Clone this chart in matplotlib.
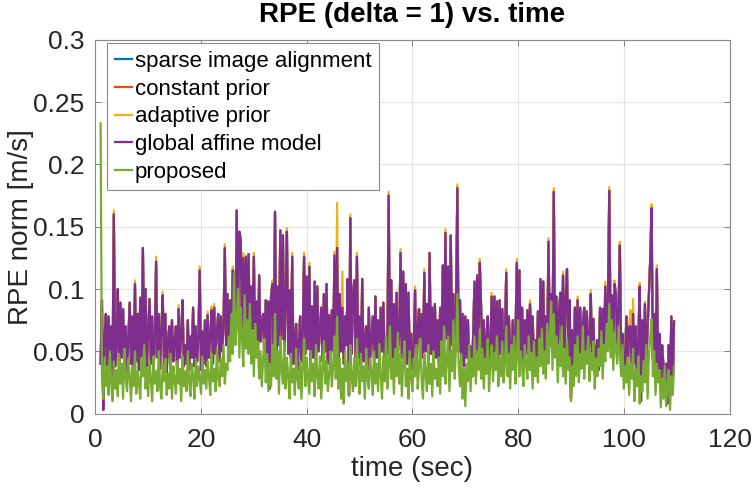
import numpy as np
import matplotlib
matplotlib.use("Agg")
import matplotlib.pyplot as plt

# ---------------- data (values in 1/1000 m/s) ----------------
time_start = 1.0      # s
time_step = 0.25      # s

global_affine_model = [
    40, 91, 3, 62, 80, 35, 78, 42, 70, 30, 160, 38, 55, 100, 33, 89,
    45, 84, 38, 70, 32, 60, 89, 40, 78, 36, 104, 42, 80, 35, 93, 45,
    133, 48, 100, 38, 65, 92, 40, 78, 33, 58, 122, 45, 80, 36, 68, 95,
    40, 80, 32, 60, 70, 35, 75, 42, 58, 70, 30, 84, 45, 62, 91, 38,
    55, 40, 75, 35, 62, 45, 85, 38, 70, 42, 60, 115, 35, 66, 40, 75,
    38, 79, 45, 62, 83, 40, 85, 48, 66, 80, 42, 78, 50, 70, 133, 55,
    96, 48, 91, 60, 115, 111, 58, 163, 70, 146, 139, 65, 125, 60, 126, 72,
    128, 55, 102, 68, 126, 50, 90, 45, 111, 58, 72, 80, 42, 91, 48, 90,
    20, 94, 104, 52, 162, 45, 102, 55, 147, 60, 143, 50, 90, 146, 48, 99,
    45, 126, 40, 60, 72, 35, 55, 78, 42, 65, 126, 48, 110, 52, 118, 40,
    86, 45, 106, 38, 102, 50, 68, 85, 42, 96, 50, 104, 40, 79, 45, 83,
    50, 127, 55, 133, 45, 96, 50, 85, 40, 78, 55, 108, 15, 157, 48, 95,
    107, 40, 126, 45, 78, 38, 108, 42, 60, 70, 35, 85, 45, 62, 78, 40,
    94, 45, 75, 38, 85, 50, 89, 42, 60, 48, 175, 52, 107, 40, 88, 45,
    97, 50, 60, 129, 45, 114, 52, 104, 40, 97, 45, 64, 35, 55, 99, 42,
    70, 84, 38, 80, 45, 113, 50, 88, 40, 129, 48, 85, 42, 88, 45, 75,
    40, 85, 50, 119, 55, 145, 60, 118, 50, 143, 55, 96, 45, 85, 181, 50,
    91, 42, 80, 38, 78, 45, 75, 35, 54, 30, 64, 106, 45, 111, 50, 121,
    85, 42, 75, 38, 60, 78, 40, 55, 94, 45, 94, 50, 90, 42, 91, 48,
    84, 45, 60, 113, 42, 78, 50, 40, 75, 45, 60, 121, 50, 115, 45, 85,
    40, 75, 48, 83, 42, 88, 50, 78, 40, 59, 35, 82, 45, 108, 50, 106,
    45, 78, 50, 138, 55, 96, 60, 178, 50, 94, 45, 83, 97, 48, 111, 52,
    91, 116, 45, 91, 12, 67, 40, 85, 45, 91, 42, 85, 48, 70, 85, 40,
    82, 45, 60, 96, 42, 76, 38, 50, 59, 35, 85, 45, 84, 50, 102, 55,
    94, 179, 60, 95, 55, 104, 96, 50, 83, 135, 45, 64, 30, 46, 78, 35,
    70, 70, 30, 80, 40, 70, 25, 59, 102, 10, 75, 35, 88, 40, 67, 96,
    124, 165, 45, 80, 30, 116, 35, 64, 20, 55, 38, 15, 40, 8, 55, 25,
    78, 20, 74,
]

proposed = [
    233, 30, 12, 45, 22, 38, 15, 50, 25, 10, 42, 20, 35, 14, 48, 24,
    40, 12, 52, 28, 18, 44, 30, 10, 38, 22, 50, 16, 34, 26, 12, 45,
    30, 55, 20, 36, 14, 42, 28, 10, 46, 24, 34, 18, 50, 22, 12, 40,
    26, 44, 15, 32, 20, 48, 12, 38, 28, 16, 42, 24, 36, 10, 46, 22,
    34, 18, 50, 26, 14, 40, 30, 12, 44, 22, 38, 28, 16, 46, 24, 35,
    20, 42, 30, 15, 48, 26, 36, 18, 52, 28, 22, 44, 30, 55, 24, 40,
    35, 62, 42, 80, 48, 113, 55, 70, 100, 45, 85, 60, 38, 95, 52, 75,
    48, 88, 40, 66, 30, 72, 45, 58, 28, 50, 22, 44, 60, 25, 48, 18,
    40, 22, 55, 30, 80, 28, 50, 16, 62, 34, 24, 58, 20, 45, 30, 12,
    48, 25, 36, 15, 52, 28, 20, 42, 12, 38, 60, 22, 45, 30, 16, 50,
    26, 40, 14, 55, 30, 20, 46, 12, 36, 58, 24, 42, 18, 32, 50, 22,
    38, 62, 28, 78, 20, 44, 12, 36, 8, 50, 26, 40, 14, 55, 30, 18,
    45, 22, 60, 30, 16, 48, 26, 38, 12, 52, 28, 20, 44, 34, 15, 50,
    24, 40, 18, 56, 30, 12, 46, 26, 62, 20, 38, 70, 28, 44, 16, 52,
    30, 65, 24, 48, 14, 40, 58, 22, 36, 12, 50, 28, 18, 44, 30, 55,
    20, 38, 60, 26, 12, 48, 32, 18, 55, 24, 40, 14, 50, 28, 36, 22,
    45, 16, 58, 30, 70, 24, 42, 62, 18, 50, 34, 75, 28, 55, 96, 40,
    22, 48, 12, 36, 6, 40, 26, 55, 18, 44, 30, 62, 24, 50, 35, 68,
    28, 52, 20, 44, 32, 60, 18, 40, 55, 26, 48, 35, 62, 22, 45, 30,
    58, 25, 40, 70, 30, 48, 20, 55, 35, 62, 24, 45, 75, 30, 50, 38,
    22, 55, 40, 28, 62, 35, 48, 20, 58, 30, 45, 25, 60, 38, 68, 32,
    50, 28, 72, 40, 60, 90, 35, 80, 45, 62, 25, 55, 38, 70, 30, 52,
    24, 60, 35, 45, 10, 38, 22, 55, 30, 62, 25, 48, 36, 70, 28, 50,
    40, 62, 26, 48, 35, 58, 20, 44, 30, 52, 38, 66, 28, 55, 42, 72,
    50, 88, 45, 75, 35, 65, 52, 40, 70, 48, 30, 55, 20, 38, 25, 45,
    15, 40, 28, 52, 10, 35, 22, 46, 8, 30, 18, 42, 25, 55, 12, 48,
    60, 76, 30, 50, 15, 40, 25, 35, 5, 28, 12, 38, 6, 22, 35, 3,
    30, 15, 38,
]

# adaptive prior: equal to the global affine curve except at these samples
adaptive_peak_times = [
    3.5, 7.5, 11.5, 12.75, 15.75, 19.75, 21.25, 22.0, 22.5, 24.5, 26.0,
    27.5, 28.0, 30.0, 33.5, 36.25, 37.25, 39.5, 40.5, 45.25, 45.75, 46.75,
    48.25, 49.5, 55.5, 57.75, 60.5, 62.25, 66.25, 68.5, 72.75, 75.0, 77.75,
    79.75, 82.25, 85.75, 86.75, 88.5, 91.25, 93.75, 96.5, 97.25, 98.25,
    99.25, 101.25, 101.75, 103.0, 104.0, 105.25, 106.25,
]
adaptive_peak_values = [
    163, 107, 126, 98, 87, 118, 82, 86, 88, 136, 118,
    142, 129, 129, 107, 149, 129, 129, 121, 130, 169, 114,
    160, 129, 178, 132, 102, 116, 148, 184, 124, 97, 116,
    124, 91, 141, 181, 114, 94, 99, 106, 182, 107,
    138, 83, 92, 105, 90, 168, 119,
]

series_labels = ["sparse image alignment", "constant prior", "adaptive prior",
                 "global affine model", "proposed"]
series_colors = ["#0072BD", "#D95319", "#EDB120", "#7E2F8E", "#77AC30"]

x_ticks = [0, 20, 40, 60, 80, 100, 120]
y_ticks = [0, 0.05, 0.1, 0.15, 0.2, 0.25, 0.3]
y_tick_labels = ["0", "0.05", "0.1", "0.15", "0.2", "0.25", "0.3"]

# ---------------- build series ----------------
g = np.array(global_affine_model, dtype=float) / 1000.0
p = np.array(proposed, dtype=float) / 1000.0
t = time_start + time_step * np.arange(len(g))
a = g.copy()
for tt, vv in zip(adaptive_peak_times, adaptive_peak_values):
    a[int(round((tt - time_start) / time_step))] = vv / 1000.0
sparse = g.copy()     # hidden under the later curves
constant = g.copy()   # hidden under the later curves
ys = [sparse, constant, a, g, p]

plt.rcParams['font.family'] = ['Liberation Sans', 'DejaVu Sans']
fig = plt.figure(figsize=(7.53, 4.91), dpi=100)
ax = fig.add_axes([0.1266, 0.1576, 0.8422, 0.7613])

for y, lab, col in zip(ys, series_labels, series_colors):
    ax.plot(t, y, color=col, lw=1.6, label=lab)

ax.set_xlim(0, 120)
ax.set_ylim(0, 0.3)
ax.set_xticks(x_ticks)
ax.set_yticks(y_ticks)
ax.set_yticklabels(y_tick_labels)
ax.grid(True, color='#e3e3e3', lw=0.8)
ax.set_axisbelow(True)
ax.tick_params(direction='in', length=4, width=0.7, colors='#808080',
               labelcolor='#262626', labelsize=19, top=True, right=True)
ax.tick_params(axis='x', pad=10)
ax.tick_params(axis='y', pad=8)
for s in ax.spines.values():
    s.set_color('#8a8a8a')
    s.set_linewidth(0.8)

ax.set_xlabel("time (sec)", fontsize=20, color='#262626', labelpad=3)
ax.set_ylabel("RPE norm [m/s]", fontsize=20, color='#262626', labelpad=-1)
ax.set_title("RPE (delta = 1) vs. time", fontsize=20, fontweight='bold',
             color='#000000', pad=13)

leg = ax.legend(loc='upper left', bbox_to_anchor=(0.018, 0.991),
                borderaxespad=0, fontsize=16, handlelength=0.8,
                handletextpad=0.1, labelspacing=0.3, borderpad=0.35,
                fancybox=False, framealpha=1, edgecolor='#8a8a8a')
leg.get_frame().set_linewidth(0.8)

fig.savefig("out.png", dpi=100)
